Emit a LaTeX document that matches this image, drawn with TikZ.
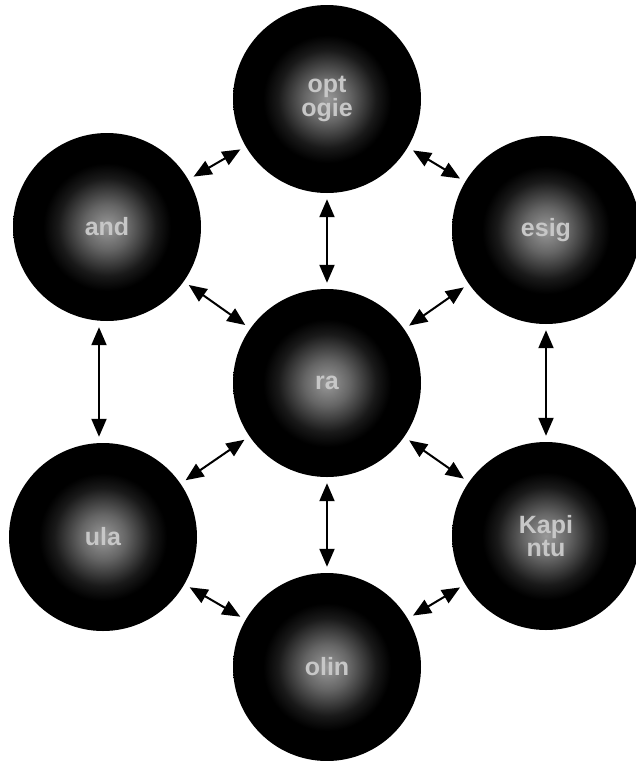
\documentclass[tikz,border=0pt]{standalone}
\usepackage{fontspec}
\setsansfont{Liberation Sans}
\usetikzlibrary{arrows.meta}
\pgfdeclareradialshading{glowball}{\pgfpoint{0bp}{0bp}}{color(0bp)=(black!40); color(6bp)=(black!60); color(13bp)=(black!90); color(17bp)=(black); color(50bp)=(black)}
\tikzset{
  ball/.style={circle, minimum size=188pt, inner sep=0pt, shading=glowball,
    text=white!78!black,
    font=\sffamily\bfseries\fontsize{25}{23}\selectfont, align=center},
  link/.style={line width=2pt, {Triangle[length=18pt,width=15pt]}-{Triangle[length=18pt,width=15pt]},
    shorten <=6pt, shorten >=6pt}
}
\begin{document}
\begin{tikzpicture}[x=1pt,y=-1pt]
\useasboundingbox[fill=white] (0,0) rectangle (636,761);
\node[ball] (top) at (327,99) {opt\\ogie};
\node[ball] (lt) at (107,227) {and};
\node[ball] (rt) at (546,230) {esig};
\node[ball] (ctr) at (327,383) {ra};
\node[ball] (lb) at (103,537) {ula};
\node[ball] (rb) at (546,536) {Kapi\\ntu};
\node[ball] (bot) at (327,667) {olin};
\draw[link] (top) -- (lt);
\draw[link] (top) -- (rt);
\draw[link] (top) -- (ctr);
\draw[link] (lt) -- (ctr);
\draw[link] (rt) -- (ctr);
\draw[link] (lt.south) ++(-8,0) coordinate (lta) -- (lb.north -| lta);
\draw[link] (rt.south) ++(0,0) coordinate (rta) -- (rb.north -| rta);
\draw[link] (ctr) -- (lb);
\draw[link] (ctr) -- (rb);
\draw[link] (ctr) -- (bot);
\draw[link] (lb) -- (bot);
\draw[link] (rb) -- (bot);
\end{tikzpicture}
\end{document}
